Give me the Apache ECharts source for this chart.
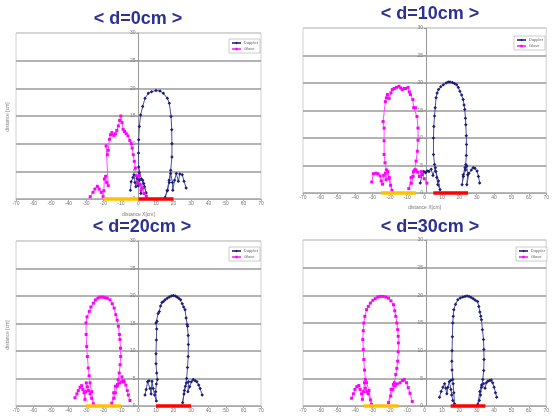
<!DOCTYPE html>
<html>
<head>
<meta charset="utf-8">
<script src="https://cdn.jsdelivr.net/npm/echarts@6/dist/echarts.min.js"></script>
<style>
  html, body { margin: 0; padding: 0; background: #fff; }
  #chart { width: 552px; height: 416px; }
</style>
</head>
<body>
<div id="chart"></div>
<script>
// panel titles (d = distance between the two sensors)
let titles = ['< d=0cm >', '< d=10cm >', '< d=20cm >', '< d=30cm >']
let seriesNames = ['Doppler', 'Glove']

// blue series, one per panel  [x cm, distance cm]
let blue0 = [
  [-4.6, 1.6], [-4.2, 3.1], [-3.2, 3.9], [-2.6, 4.4], [-2.0, 3.0], [-1.5, 2.2], [-0.8, 3.7],
  [-0.2, 2.4], [0.4, 4.8], [0.8, 2.6], [1.4, 1.0], [2.4, 3.4], [3.4, 2.2], [4.4, 1.1],
  [3.0, 2.8], [1.6, 3.6], [0.5, 3.4], [0.1, 5.8], [0.0, 8.3], [0.1, 10.7], [0.5, 13.1],
  [1.2, 15.2], [2.4, 16.7], [3.7, 18.2], [5.6, 19.1], [7.5, 19.4], [10.0, 19.6], [12.3, 19.5],
  [14.2, 19.1], [16.5, 18.2], [17.6, 17.3], [18.6, 14.9], [19.0, 12.5], [19.1, 10.0],
  [19.1, 7.6], [18.4, 5.2], [17.5, 3.4], [16.4, 1.5], [15.2, 0.3], [16.6, 1.6], [17.6, 3.0],
  [18.4, 4.6], [19.4, 3.0], [19.6, 1.6], [20.6, 3.4], [21.6, 4.6], [22.8, 3.2], [23.6, 4.5],
  [25.0, 4.4], [26.0, 3.2], [27.2, 2.0]
]
let blue1 = [
  [-2.5, 1.8], [-1.5, 3.3], [-0.5, 3.9], [0.5, 3.7], [1.5, 4.0], [2.5, 3.9], [3.8, 4.3],
  [4.8, 3.2], [6.2, 4.6], [7.0, 2.8], [7.6, 1.5], [8.9, 0.6], [8.0, 2.2], [6.5, 3.9],
  [5.7, 5.2], [5.1, 7.0], [5.1, 10.0], [5.3, 12.1], [5.7, 14.0], [6.1, 15.5], [6.6, 17.3],
  [7.2, 18.2], [8.0, 18.8], [9.3, 19.3], [10.8, 19.7], [12.4, 20.0], [13.6, 20.2], [14.6, 20.2],
  [16.0, 20.1], [17.2, 19.9], [18.4, 19.7], [19.4, 19.2], [20.3, 18.5], [21.3, 17.8], [22.2, 17.0],
  [22.7, 16.0], [23.1, 15.2], [23.5, 13.6], [23.7, 12.4], [24.0, 10.4], [24.1, 8.8], [24.0, 6.8],
  [23.7, 5.2], [23.2, 4.6], [22.2, 3.3], [21.6, 1.5], [22.3, 3.0], [23.5, 4.2], [24.3, 4.9],
  [24.8, 3.3], [24.3, 1.5], [25.5, 3.6], [26.9, 4.2], [28.0, 4.6], [29.0, 4.5], [30.2, 4.0],
  [31.0, 3.0], [31.7, 1.8]
]
let blue2 = [
  [3.7, 2.0], [4.4, 3.0], [5.2, 4.4], [6.0, 4.6], [6.6, 3.2], [7.2, 2.2], [7.7, 4.5],
  [8.4, 3.2], [9.2, 2.0], [10.2, 0.9], [9.8, 2.6], [10.2, 4.0], [10.8, 4.8], [10.4, 6.0],
  [10.0, 7.7], [10.0, 9.5], [10.2, 12.0], [10.4, 14.0], [10.0, 15.1], [10.6, 15.4], [11.2, 16.8],
  [11.9, 17.2], [12.6, 18.2], [13.4, 18.8], [14.2, 19.0], [15.2, 19.3], [16.4, 19.6], [17.6, 19.8],
  [18.8, 20.0], [19.9, 20.1], [21.0, 20.0], [22.0, 19.8], [23.0, 19.6], [24.1, 19.3], [25.0, 18.6],
  [25.8, 18.0], [26.6, 17.5], [27.2, 16.0], [27.8, 14.8], [28.1, 14.5], [28.4, 12.8], [28.5, 11.2],
  [28.4, 9.0], [28.0, 7.0], [27.5, 5.0], [26.8, 3.6], [26.0, 2.2], [25.2, 0.6], [26.2, 2.8],
  [27.4, 4.2], [28.6, 4.4], [28.2, 2.6], [29.2, 3.5], [30.2, 4.4], [31.3, 4.8], [32.4, 4.6],
  [33.4, 4.4], [34.4, 3.8], [35.2, 3.2], [36.4, 2.0]
]
let blue3 = [
  [8.6, 1.6], [9.5, 2.6], [10.5, 3.4], [11.5, 4.0], [12.2, 3.2], [12.8, 2.2], [13.4, 3.4],
  [14.2, 4.4], [15.0, 4.6], [15.2, 3.0], [15.6, 2.0], [16.2, 1.0], [17.2, 0.4], [16.8, 2.4],
  [16.4, 4.0], [16.2, 4.8], [15.8, 6.5], [15.7, 8.1], [15.8, 10.0], [16.0, 12.5], [16.2, 15.0],
  [16.5, 16.2], [16.8, 17.4], [17.8, 18.4], [19.1, 19.2], [20.5, 19.5], [22.0, 19.7], [23.2, 19.8],
  [24.4, 19.9], [25.6, 19.8], [26.8, 19.6], [28.0, 19.4], [29.2, 19.1], [30.5, 18.9], [31.2, 18.0],
  [31.8, 17.0], [32.3, 16.2], [32.7, 15.6], [33.3, 13.8], [33.9, 12.0], [34.1, 10.2], [34.2, 8.4],
  [34.0, 6.4], [33.5, 4.8], [32.8, 3.4], [32.2, 2.0], [31.5, 1.0], [30.6, 0.3], [31.8, 2.6],
  [32.8, 3.8], [33.9, 4.0], [34.8, 3.2], [35.5, 4.2], [36.5, 4.5], [37.5, 4.6], [38.4, 4.7],
  [39.2, 4.2], [40.0, 3.4], [40.8, 2.4], [41.5, 1.6]
]

// magenta series, one per panel
let pink0 = [
  [-27.6, 0.4], [-26.0, 1.2], [-24.9, 1.8], [-23.5, 2.3], [-22.5, 1.8], [-21.3, 1.2], [-20.2, 0.4],
  [-19.8, 1.5], [-19.5, 3.6], [-18.8, 4.1], [-18.2, 3.0], [-17.3, 2.4], [-18.5, 9.6], [-17.8, 8.0],
  [-17.3, 8.8], [-16.6, 10.8], [-16.0, 11.6], [-15.2, 12.0], [-14.2, 11.5], [-13.2, 11.8],
  [-12.4, 12.4], [-11.5, 13.2], [-10.8, 14.2], [-10.1, 15.0], [-9.4, 13.8], [-8.8, 12.6],
  [-8.0, 12.2], [-7.0, 11.8], [-6.0, 11.4], [-5.0, 10.6], [-4.2, 10.0], [-3.6, 9.2], [-3.0, 8.0],
  [-2.4, 6.8], [-1.8, 5.6], [-1.2, 4.2], [-0.6, 3.0], [0.2, 4.2], [0.8, 2.6], [1.5, 1.6],
  [2.5, 2.0], [3.2, 1.0], [4.5, 0.5]
]
let pink1 = [
  [-30.4, 2.0], [-29.5, 3.5], [-28.0, 3.6], [-26.8, 3.5], [-25.6, 3.1], [-25.0, 2.2], [-24.2, 1.6],
  [-23.6, 3.2], [-22.6, 3.6], [-22.2, 2.4], [-21.2, 3.9], [-20.6, 2.6], [-19.6, 1.4], [-18.8, 0.5],
  [-20.3, 2.8], [-22.0, 4.2], [-22.8, 5.5], [-23.3, 7.0], [-23.3, 9.5], [-23.3, 11.8], [-23.9, 13.0],
  [-22.6, 16.6], [-22.0, 17.3], [-21.4, 17.9], [-20.4, 17.2], [-19.4, 18.2], [-18.6, 18.8],
  [-17.5, 19.0], [-16.2, 19.2], [-14.8, 19.4], [-13.8, 19.1], [-12.9, 18.8], [-11.8, 19.0],
  [-11.0, 19.0], [-9.5, 19.2], [-8.8, 18.4], [-8.2, 17.9], [-6.8, 17.0], [-6.3, 15.5], [-5.3, 15.5],
  [-4.4, 13.9], [-3.8, 11.8], [-3.8, 9.6], [-4.2, 7.6], [-4.9, 5.8], [-5.7, 4.2], [-6.6, 3.0],
  [-7.6, 1.8], [-9.1, 0.8], [-7.8, 2.8], [-6.4, 3.9], [-5.0, 4.2], [-4.0, 3.8], [-3.0, 3.0],
  [-2.0, 3.9], [-1.2, 3.4], [-0.2, 2.6], [1.3, 1.8]
]
let pink2 = [
  [-36.3, 1.5], [-35.2, 2.2], [-34.4, 2.8], [-33.4, 3.4], [-32.5, 3.7], [-31.8, 3.0], [-31.1, 2.4],
  [-30.6, 1.2], [-30.2, 2.6], [-29.8, 4.2], [-29.2, 3.5], [-28.6, 2.8], [-27.7, 2.2], [-26.8, 1.4],
  [-25.8, 0.4], [-26.8, 2.6], [-27.7, 4.2], [-28.2, 5.5], [-28.7, 6.9], [-29.2, 9.0], [-29.6, 10.8],
  [-29.9, 13.0], [-30.0, 15.1], [-29.4, 16.2], [-28.1, 17.2], [-27.2, 18.0], [-25.8, 18.7],
  [-24.6, 19.3], [-23.2, 19.6], [-22.0, 19.8], [-20.5, 19.8], [-19.2, 19.7], [-17.8, 19.6],
  [-16.3, 19.3], [-15.0, 18.6], [-13.9, 17.8], [-13.0, 16.6], [-12.2, 15.6], [-11.5, 14.5],
  [-10.9, 13.0], [-10.6, 12.1], [-10.3, 10.5], [-10.2, 9.0], [-10.5, 7.5], [-11.0, 6.0],
  [-11.6, 4.8], [-12.2, 3.6], [-13.2, 2.4], [-14.0, 1.4], [-15.3, 0.5], [-14.2, 2.4], [-13.2, 3.6],
  [-12.0, 3.9], [-10.8, 4.2], [-9.6, 4.4], [-8.6, 4.6], [-9.5, 5.3], [-8.2, 4.4], [-7.2, 3.8],
  [-6.4, 2.8], [-5.8, 2.0], [-4.9, 1.0]
]
let pink3 = [
  [-42.0, 1.4], [-41.0, 2.2], [-40.1, 3.0], [-39.0, 3.5], [-37.9, 3.7], [-37.1, 3.0], [-36.3, 2.2],
  [-35.8, 1.2], [-35.2, 2.6], [-34.6, 4.2], [-34.1, 3.2], [-33.2, 2.6], [-32.5, 2.2], [-31.2, 1.1],
  [-30.6, 0.3], [-32.0, 2.8], [-33.4, 4.2], [-34.1, 4.8], [-34.6, 6.5], [-35.0, 8.4], [-35.3, 10.2],
  [-35.6, 12.0], [-35.3, 13.6], [-35.0, 15.0], [-34.4, 16.2], [-33.4, 17.4], [-32.4, 18.0],
  [-31.2, 18.6], [-29.8, 19.1], [-28.4, 19.4], [-27.0, 19.7], [-25.5, 19.8], [-24.0, 19.8],
  [-22.4, 19.7], [-20.8, 19.5], [-19.4, 19.0], [-17.9, 18.3], [-17.2, 17.2], [-16.6, 16.2],
  [-16.0, 15.0], [-15.5, 13.8], [-15.2, 12.6], [-15.1, 11.4], [-15.2, 9.8], [-15.5, 8.1],
  [-16.0, 6.8], [-16.6, 5.7], [-17.4, 4.2], [-18.3, 3.0], [-19.5, 1.8], [-20.8, 0.6], [-19.3, 3.0],
  [-18.0, 3.9], [-17.0, 3.6], [-15.8, 4.0], [-14.1, 4.2], [-12.8, 4.6], [-11.7, 4.8], [-10.4, 4.2],
  [-9.4, 3.3], [-8.4, 2.3], [-7.1, 0.8]
]

// sensor footprints drawn on the x axis  [from, to]
let yellowSpans = [[-20, 0], [-25, -5], [-30, -10], [-35, -15]]
let redSpans = [[0, 20], [5, 25], [10, 30], [15, 35]]

let blueSets = [blue0, blue1, blue2, blue3]
let pinkSets = [pink0, pink1, pink2, pink3]

// layout of the four panels
let grids = [
  { left: 16, top: 33, width: 245, height: 166 },
  { left: 303, top: 28, width: 246, height: 165 },
  { left: 16, top: 241, width: 245, height: 165 },
  { left: 303, top: 240, width: 246, height: 166 }
]
let titlePos = [[138, 19], [430, 14], [142, 227], [430, 227]]
let legendPos = [[229, 39], [514, 36], [229, 247], [516, 247]]

let chart = echarts.init(document.getElementById('chart'), null, { renderer: 'canvas' })

let xAxes = grids.map((g, i) => ({
  type: 'value',
  gridIndex: i,
  min: -70,
  max: 70,
  interval: 10,
  name: i < 2 ? 'distance X[cm]' : '',
  nameLocation: 'middle',
  nameGap: i === 0 ? 13 : 12,
  nameTextStyle: { fontSize: 5, color: '#777' },
  axisLine: { onZero: false, lineStyle: { color: '#aaa', width: 1 } },
  axisTick: { show: true, length: 2, lineStyle: { color: '#aaa' } },
  axisLabel: { fontSize: 5, color: '#777', margin: 2 },
  splitLine: { show: false }
}))

// the y axis sits on x = 0, in the middle of each plot
let yAxes = grids.map((g, i) => ({
  type: 'value',
  gridIndex: i,
  min: 0,
  max: 30,
  interval: 5,
  position: 'left',
  offset: -g.width / 2,
  axisLine: { onZero: false, lineStyle: { color: '#999', width: 1 } },
  axisTick: { show: true, length: 2, lineStyle: { color: '#999' } },
  axisLabel: { fontSize: 5, color: '#777', margin: 3 },
  splitLine: {
    show: true,
    lineStyle: { color: ['#aaa', '#9a9a9a', '#9a9a9a', '#9a9a9a', '#9a9a9a', '#9a9a9a', '#d0d0d0'], width: 1.6 }
  }
}))

let series = []
for (let i = 0; i < 4; i++) {
  series.push({
    type: 'line',
    name: seriesNames[0],
    xAxisIndex: i,
    yAxisIndex: i,
    data: blueSets[i],
    symbol: 'diamond',
    symbolSize: 3.5,
    itemStyle: { color: '#1c1c7a' },
    lineStyle: { color: '#4a4f9e', width: 1 },
    animation: false
  })
  series.push({
    type: 'line',
    name: seriesNames[1],
    xAxisIndex: i,
    yAxisIndex: i,
    data: pinkSets[i],
    symbol: 'rect',
    symbolSize: 3,
    itemStyle: { color: '#ff00ff' },
    lineStyle: { color: '#ff4dff', width: 1 },
    animation: false
  })
  series.push({
    type: 'line',
    xAxisIndex: i,
    yAxisIndex: i,
    data: [[yellowSpans[i][0], 0], [yellowSpans[i][1], 0]],
    symbol: 'none',
    clip: false,
    silent: true,
    z: 5,
    lineStyle: { color: '#ffc000', width: 3.5 },
    animation: false
  })
  series.push({
    type: 'line',
    xAxisIndex: i,
    yAxisIndex: i,
    data: [[redSpans[i][0], 0], [redSpans[i][1], 0]],
    symbol: 'none',
    clip: false,
    silent: true,
    z: 5,
    lineStyle: { color: '#ff0000', width: 3.5 },
    animation: false
  })
}

let graphics = titles.map((t, i) => ({
  type: 'text',
  x: titlePos[i][0],
  y: titlePos[i][1],
  style: {
    text: t,
    font: 'bold 18px "Liberation Sans", Arial, sans-serif',
    fill: '#2e3192',
    align: 'center',
    verticalAlign: 'middle'
  }
}))
// rotated y axis names on the left panels
;[117, 335].forEach(y => {
  graphics.push({
    type: 'text',
    x: 8,
    y: y,
    rotation: Math.PI / 2,
    style: {
      text: 'distance [cm]',
      font: '5px "Liberation Sans", Arial, sans-serif',
      fill: '#888',
      align: 'center',
      verticalAlign: 'middle'
    }
  })
})

let option = {
  backgroundColor: '#fff',
  animation: false,
  grid: grids.map(g => Object.assign({ show: true, borderColor: '#d0d0d0', borderWidth: 1, backgroundColor: '#fff' }, g)),
  xAxis: xAxes,
  yAxis: yAxes,
  legend: legendPos.map(p => ({
    data: seriesNames,
    left: p[0],
    top: p[1],
    orient: 'vertical',
    itemWidth: 9,
    itemHeight: 3,
    itemGap: 2,
    padding: [2, 2],
    borderColor: '#aaa',
    borderWidth: 0.6,
    backgroundColor: '#fff',
    textStyle: { fontSize: 4, color: '#666', padding: [0, 0, 0, -2] }
  })),
  graphic: graphics,
  series: series
}

chart.setOption(option)
</script>
</body>
</html>
